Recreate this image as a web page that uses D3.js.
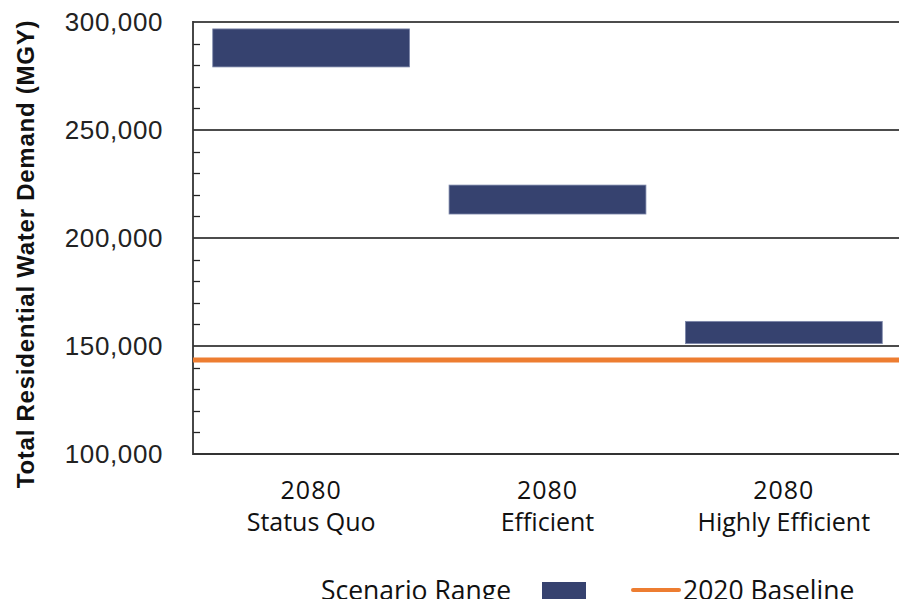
<!DOCTYPE html>
<html>
<head>
<meta charset="utf-8">
<script src="https://cdn.jsdelivr.net/npm/d3@7/dist/d3.min.js"></script>
<style>
  html, body { margin: 0; padding: 0; background: #fff; }
  svg { display: block; }
</style>
</head>
<body>
<svg id="chart" width="899" height="599"></svg>
<script>
// ---- data ----
const years = ["2080", "2080", "2080"];
const scenarios = ["Status Quo", "Efficient", "Highly Efficient"];
const rangeLow = [279200, 211100, 151100];
const rangeHigh = [296800, 224500, 161400];
const baseline2020 = 143500;
const yTicks = [100000, 150000, 200000, 250000, 300000];
const yMinorTicks = [110000, 120000, 130000, 140000, 160000, 170000, 180000, 190000,
                     210000, 220000, 230000, 240000, 260000, 270000, 280000, 290000];
const yTitle = "Total Residential Water Demand (MGY)";
const legendLabels = ["Scenario Range", "2020 Baseline"];

// ---- layout ----
const plotL = 193, plotR = 902, plotT = 22, plotB = 454;
const barColor = "#36426f";
const lineColor = "#ED7D31";
const svg = d3.select("#chart");

const y = d3.scaleLinear().domain([100000, 300000]).range([plotB, plotT]);
const x = d3.scaleBand().domain(scenarios).range([plotL, plotR])
  .paddingInner(0.167).paddingOuter(0.0835);

// major gridlines
svg.append("g").selectAll("line").data(yTicks.filter(d => d > 100000)).join("line")
  .attr("x1", plotL).attr("x2", 899)
  .attr("y1", d => y(d)).attr("y2", d => y(d))
  .attr("stroke", "#111").attr("stroke-width", 1.6);

// minor ticks (inside)
svg.append("g").selectAll("line").data(yMinorTicks).join("line")
  .attr("x1", plotL).attr("x2", plotL + 7)
  .attr("y1", d => Math.round(y(d)) + 0.5).attr("y2", d => Math.round(y(d)) + 0.5)
  .attr("stroke", "#222").attr("stroke-width", 1.3);

// y axis labels via d3 axis
const fmt = d3.format(",");
const yAxis = svg.append("g").attr("transform", `translate(${plotL},0)`)
  .call(d3.axisLeft(y).tickValues(yTicks).tickFormat(fmt).tickSize(0).tickPadding(30));
yAxis.select(".domain").remove();
yAxis.selectAll("text")
  .attr("font-family", "Liberation Sans, Arial, sans-serif")
  .attr("font-size", 26).attr("fill", "#222")
  .style("letter-spacing", "0.6px")
  .attr("dy", "0.33em");

// axis lines
svg.append("line").attr("x1", plotL).attr("x2", plotL).attr("y1", plotT - 1).attr("y2", plotB + 1)
  .attr("stroke", "#333").attr("stroke-width", 1.8);
svg.append("line").attr("x1", plotL).attr("x2", 899).attr("y1", plotB).attr("y2", plotB)
  .attr("stroke", "#333").attr("stroke-width", 1.8);

// bars (floating ranges)
svg.append("g").selectAll("rect").data(scenarios).join("rect")
  .attr("x", d => x(d))
  .attr("width", x.bandwidth())
  .attr("y", (d, i) => y(rangeHigh[i]))
  .attr("height", (d, i) => y(rangeLow[i]) - y(rangeHigh[i]))
  .attr("fill", barColor)
  .attr("stroke", "#7d88aa").attr("stroke-width", 0.8);

// baseline
svg.append("line").attr("x1", plotL).attr("x2", 899)
  .attr("y1", y(baseline2020)).attr("y2", y(baseline2020))
  .attr("stroke", lineColor).attr("stroke-width", 5);

// x labels
const xl = svg.append("g").selectAll("text").data(scenarios).join("text")
  .attr("x", d => x(d) + x.bandwidth() / 2)
  .attr("text-anchor", "middle")
  .attr("font-family", "Open Sans, sans-serif")
  .attr("font-size", 25).attr("fill", "#111");
xl.append("tspan").attr("x", d => x(d) + x.bandwidth() / 2).attr("y", 499)
  .style("letter-spacing", "1px").text((d, i) => years[i]);
xl.append("tspan").attr("x", d => x(d) + x.bandwidth() / 2).attr("y", 531)
  .text(d => d);

// y title
svg.append("text")
  .attr("transform", `translate(34,254) rotate(-90)`)
  .attr("text-anchor", "middle")
  .attr("font-family", "Liberation Sans, Arial, sans-serif")
  .attr("font-weight", "bold")
  .attr("font-size", 24).attr("fill", "#111")
  .style("letter-spacing", "0.75px")
  .text(yTitle);

// legend
const lg = svg.append("g");
lg.append("text").attr("x", 321).attr("y", 600)
  .attr("font-family", "Open Sans, sans-serif").attr("font-size", 26.5).attr("fill", "#111")
  .text(legendLabels[0]);
lg.append("rect").attr("x", 542).attr("y", 582).attr("width", 44).attr("height", 20)
  .attr("fill", barColor);
lg.append("line").attr("x1", 633).attr("x2", 679).attr("y1", 590).attr("y2", 590)
  .attr("stroke", lineColor).attr("stroke-width", 4).attr("stroke-linecap", "round");
lg.append("text").attr("x", 683).attr("y", 600)
  .attr("font-family", "Open Sans, sans-serif").attr("font-size", 26.5).attr("fill", "#111")
  .text(legendLabels[1]);
</script>
</body>
</html>
